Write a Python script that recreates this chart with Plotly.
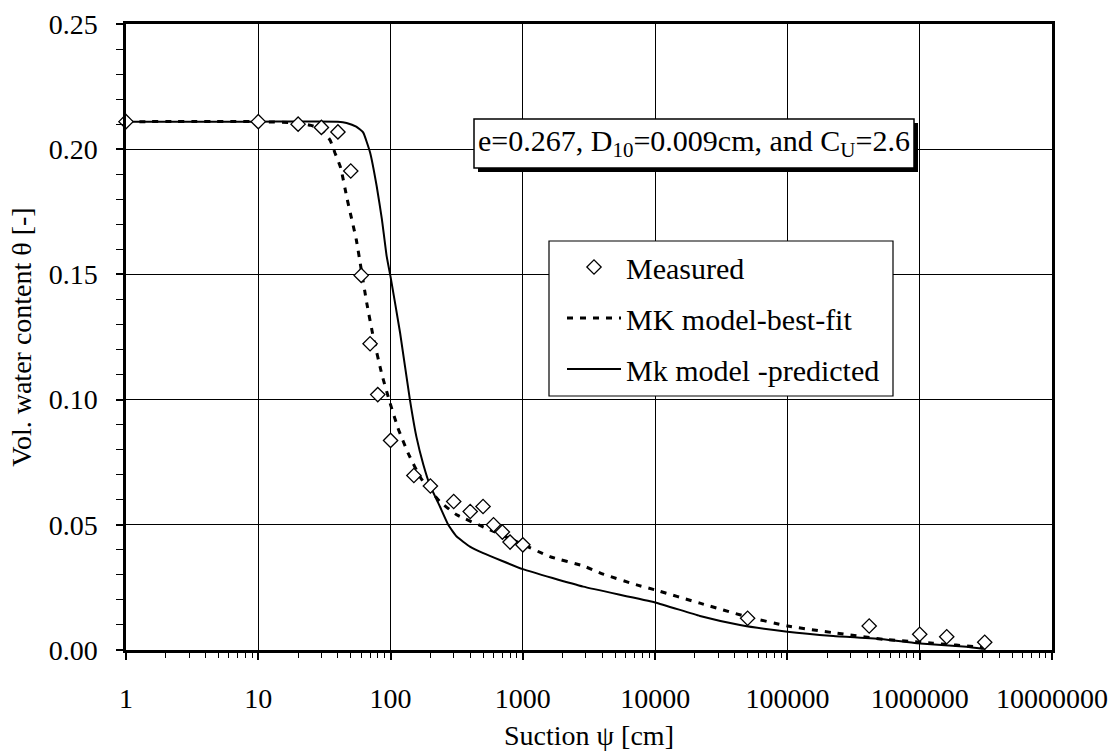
import plotly.graph_objects as go

# Measured data
meas_x = [1, 10, 20, 30, 40, 50, 60, 70, 80, 100, 150, 200, 300, 400, 500, 600, 700, 800, 1000,
          50000, 415000, 1000000, 1600000, 3100000]
meas_y = [0.211, 0.211, 0.210, 0.2087, 0.2069, 0.1913, 0.1496, 0.1223, 0.102, 0.0837, 0.0697, 0.0655,
          0.0593, 0.0553, 0.0573, 0.050, 0.0471, 0.0431, 0.042, 0.0127, 0.0096, 0.0063, 0.0053, 0.0031]

# MK model best-fit (dashed)
fit_x = [1, 10, 20, 25, 30, 35, 38, 42, 47, 55, 60, 66, 74, 86, 99, 114, 136, 170, 236, 316, 564, 897,
         1600, 2860, 4050, 7250, 10000, 21800, 49200, 100000, 222000, 530000, 1260000, 2850000, 3200000]
fit_y = [0.211, 0.211, 0.2105, 0.2095, 0.208, 0.2035, 0.1985, 0.1925, 0.180, 0.164, 0.152, 0.1387,
         0.1250, 0.1100, 0.0987, 0.0885, 0.0785, 0.0685, 0.0593, 0.054, 0.048, 0.0433, 0.0373, 0.0336,
         0.0303, 0.026, 0.024, 0.0187, 0.0133, 0.0096, 0.0069, 0.0043, 0.0027, 0.0011, 0.0004]

# MK model predicted (solid)
pred_x = [1, 10, 40, 46.5, 55, 62, 70, 78.5, 86, 93.4, 100, 118, 140, 157, 177, 199, 236, 273, 316, 398,
          502, 1000, 2860, 10000, 21800, 43800, 100000, 222000, 530000, 947000, 2260000, 3000000]
pred_y = [0.211, 0.211, 0.211, 0.2105, 0.209, 0.2067, 0.1987, 0.1853, 0.172, 0.1573, 0.149,
          0.1267, 0.100, 0.085, 0.074, 0.0656, 0.0573, 0.050, 0.0453, 0.0413, 0.0387, 0.0323, 0.0253,
          0.019, 0.0136, 0.010, 0.0073, 0.0056, 0.0043, 0.0027, 0.0013, 0.0005]

x_tickvals = [1, 10, 100, 1000, 10000, 100000, 1000000, 10000000]
x_ticktext = ["1", "10", "100", "1000", "10000", "100000", "1000000", "10000000"]

FONT = "Liberation Serif"

fig = go.Figure()
fig.add_trace(go.Scatter(
    x=fit_x, y=fit_y, mode="lines", name="MK model-best-fit",
    line=dict(color="black", width=3, dash="6px,7px", shape="spline", smoothing=0.4),
    legendgroup="b", legendrank=2))
fig.add_trace(go.Scatter(
    x=pred_x, y=pred_y, mode="lines", name="Mk model -predicted",
    line=dict(color="black", width=2, shape="spline", smoothing=0.4),
    legendgroup="c", legendrank=3))
fig.add_trace(go.Scatter(
    x=meas_x, y=meas_y, mode="markers", name="Measured", cliponaxis=False,
    marker=dict(symbol="diamond", size=11, color="white", line=dict(color="black", width=1.3)),
    legendgroup="a", legendrank=1))

def px2paper_x(px):
    return (px - 126) / 926.0

def px2paper_y(py):
    return (650 - py) / 626.0

# legend frame
fig.add_shape(type="rect", xref="paper", yref="paper",
              x0=px2paper_x(549), x1=px2paper_x(893), y0=px2paper_y(396), y1=px2paper_y(241),
              fillcolor="white", line=dict(color="black", width=1.2), layer="above")

# annotation box with shadow
fig.add_shape(type="rect", xref="paper", yref="paper",
              x0=px2paper_x(478), x1=px2paper_x(918), y0=px2paper_y(172), y1=px2paper_y(123),
              fillcolor="black", line=dict(width=0), layer="above")
fig.add_shape(type="rect", xref="paper", yref="paper",
              x0=px2paper_x(474), x1=px2paper_x(914), y0=px2paper_y(168), y1=px2paper_y(119),
              fillcolor="white", line=dict(color="black", width=1.5), layer="above")
fig.add_annotation(xref="paper", yref="paper", x=px2paper_x(694), y=px2paper_y(143),
                   text="e=0.267, D<sub>10</sub>=0.009cm, and C<sub>U</sub>=2.6",
                   showarrow=False, font=dict(family=FONT, size=30, color="black"),
                   xanchor="center", yanchor="middle")

fig.update_layout(
    width=1117, height=754,
    margin=dict(l=126, r=65, t=24, b=104, autoexpand=False),
    paper_bgcolor="white", plot_bgcolor="white",
    font=dict(family=FONT, size=28, color="black"),
    legend=dict(x=px2paper_x(562), y=px2paper_y(241), xanchor="left", yanchor="top",
                borderwidth=0, bgcolor="rgba(0,0,0,0)",
                font=dict(family=FONT, size=30, color="black"),
                itemwidth=54, tracegroupgap=9, traceorder="grouped"),
    showlegend=True,
)

fig.update_xaxes(
    type="log", range=[0, 7], tickmode="array", tickvals=x_tickvals, ticktext=x_ticktext,
    showgrid=True, gridcolor="black", gridwidth=1,
    showline=True, linecolor="black", linewidth=2.5, mirror=True,
    ticks="outside", ticklen=7, tickcolor="black", tickwidth=1.5,
    minor=dict(ticks="outside", ticklen=5, tickcolor="black", tickwidth=1, dtick="D1", showgrid=False),
    ticklabelstandoff=15,
    tickfont=dict(family=FONT, size=28, color="black"),
    title=dict(text="Suction ψ [cm]", font=dict(family=FONT, size=28, color="black"), standoff=13),
    zeroline=False, automargin=False,
)
fig.update_yaxes(
    range=[0, 0.25], dtick=0.05, tickformat=".2f",
    showgrid=True, gridcolor="black", gridwidth=1,
    showline=True, linecolor="black", linewidth=2.5, mirror=True,
    ticks="outside", ticklen=7, tickcolor="black", tickwidth=1.5,
    minor=dict(ticks="outside", ticklen=7, tickcolor="black", tickwidth=1, dtick=0.01, showgrid=False),
    ticklabelstandoff=13,
    tickfont=dict(family=FONT, size=28, color="black"),
    title=dict(text="Vol. water content θ [-]", font=dict(family=FONT, size=28, color="black"), standoff=9),
    zeroline=False, automargin=False,
)

fig.write_html("out.html")
